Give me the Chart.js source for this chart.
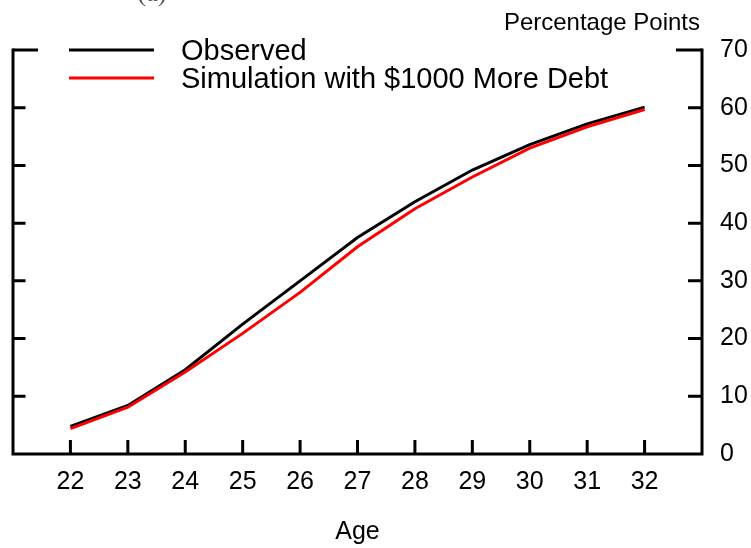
<!DOCTYPE html>
<html>
<head>
<meta charset="utf-8">
<script src="https://cdn.jsdelivr.net/npm/chart.js@4/dist/chart.umd.min.js"></script>
<style>
  html, body { margin: 0; padding: 0; background: #fff; }
  #wrap { width: 751px; height: 548px; }
</style>
</head>
<body>
<div id="wrap"><canvas id="c" width="751" height="548"></canvas></div>
<script>
// Age of borrower (years)
const ages = [22, 23, 24, 25, 26, 27, 28, 29, 30, 31, 32];
// Share of borrowers, percentage points
const observed   = [4.8, 8.4, 14.6, 22.5, 30.0, 37.5, 43.7, 49.2, 53.6, 57.2, 60.1];
const simulation = [4.4, 8.1, 14.2, 20.9, 28.0, 35.9, 42.5, 48.0, 53.0, 56.7, 59.7];
// Axis ranges and tick values
const xRange = [21, 33];
const yTicks = [0, 10, 20, 30, 40, 50, 60, 70];

const seriesLabels = ['Observed', 'Simulation with $1000 More Debt'];
const seriesColors = ['#000000', '#ff0000'];

const FONT = '"Liberation Sans", Arial, Helvetica, sans-serif';

function pts(vals) {
  return ages.map((a, i) => ({ x: a, y: vals[i] }));
}

// Frame, inward tick marks, legend and captions
const decorations = {
  id: 'decorations',
  afterDraw(chart) {
    const ctx = chart.ctx;
    const xs = chart.scales.x, ys = chart.scales.y;
    const L = xs.getPixelForValue(xRange[0]);
    const R = xs.getPixelForValue(xRange[1]);
    const T = ys.getPixelForValue(yTicks[yTicks.length - 1]);
    const B = ys.getPixelForValue(0);
    ctx.save();
    ctx.strokeStyle = '#000';
    ctx.lineWidth = 3;
    ctx.lineCap = 'butt';
    // frame: left, bottom, right
    ctx.beginPath();
    ctx.moveTo(L, T - 1.5); ctx.lineTo(L, B + 1.5);
    ctx.moveTo(L - 1.5, B); ctx.lineTo(R + 1.5, B);
    ctx.moveTo(R, T - 1.5); ctx.lineTo(R, B + 1.5);
    ctx.stroke();
    // y ticks on both sides
    ctx.beginPath();
    yTicks.forEach(v => {
      if (v === 0) return;
      const y = ys.getPixelForValue(v);
      const top = v === yTicks[yTicks.length - 1];
      ctx.moveTo(L, y); ctx.lineTo(L + (top ? 25 : 12.5), y);
      ctx.moveTo(R, y); ctx.lineTo(R - (top ? 26 : 14), y);
    });
    // x ticks
    ages.forEach(v => {
      const x = xs.getPixelForValue(v);
      ctx.moveTo(x, B); ctx.lineTo(x, B - 14);
    });
    ctx.stroke();

    // legend
    ctx.font = '29px ' + FONT;
    ctx.textAlign = 'left';
    ctx.textBaseline = 'alphabetic';
    seriesLabels.forEach((lab, i) => {
      const y = 50 + i * 28;
      ctx.strokeStyle = seriesColors[i];
      ctx.beginPath();
      ctx.moveTo(69, y); ctx.lineTo(154, y);
      ctx.stroke();
      ctx.fillStyle = '#000';
      ctx.fillText(lab, 181, y + 9.5);
    });

    // unit caption
    ctx.font = '24px ' + FONT;
    ctx.textAlign = 'right';
    ctx.fillStyle = '#000';
    ctx.fillText('Percentage Points', 700, 29.5);

    // x axis title
    ctx.font = '25px ' + FONT;
    ctx.textAlign = 'center';
    ctx.fillText('Age', (L + R) / 2, 539);

    // panel tag
    ctx.font = '26px "Liberation Serif", "Times New Roman", serif';
    ctx.fillStyle = '#555';
    ctx.fillText('(a)', 152, 1);
    ctx.restore();
  }
};

new Chart(document.getElementById('c'), {
  type: 'line',
  data: {
    datasets: [
      { label: seriesLabels[0], data: pts(observed), borderColor: seriesColors[0],
        borderWidth: 3, pointRadius: 0, tension: 0, fill: false, order: 2 },
      { label: seriesLabels[1], data: pts(simulation), borderColor: seriesColors[1],
        borderWidth: 3, pointRadius: 0, tension: 0, fill: false, order: 1 }
    ]
  },
  options: {
    responsive: false,
    animation: false,
    layout: { padding: { top: 50, left: 13, right: 0, bottom: 0 } },
    plugins: { legend: { display: false }, tooltip: { enabled: false } },
    scales: {
      x: {
        type: 'linear',
        position: 'bottom',
        min: xRange[0], max: xRange[1],
        border: { display: false },
        grid: { display: false, drawTicks: false },
        afterFit(s) { s.height = 94; },
        afterBuildTicks(s) { s.ticks = ages.map(v => ({ value: v })); },
        ticks: {
          autoSkip: false, maxRotation: 0, padding: 13,
          color: '#000', font: { family: FONT, size: 25 },
          callback: v => String(v)
        }
      },
      y: {
        type: 'linear',
        position: 'right',
        min: 0, max: 70,
        border: { display: false },
        grid: { display: false, drawTicks: false },
        afterFit(s) { s.width = 49; },
        afterBuildTicks(s) { s.ticks = yTicks.map(v => ({ value: v })); },
        ticks: {
          padding: 18,
          color: '#000', font: { family: FONT, size: 25 },
          callback: v => String(v)
        }
      }
    }
  },
  plugins: [decorations]
});
</script>
</body>
</html>
